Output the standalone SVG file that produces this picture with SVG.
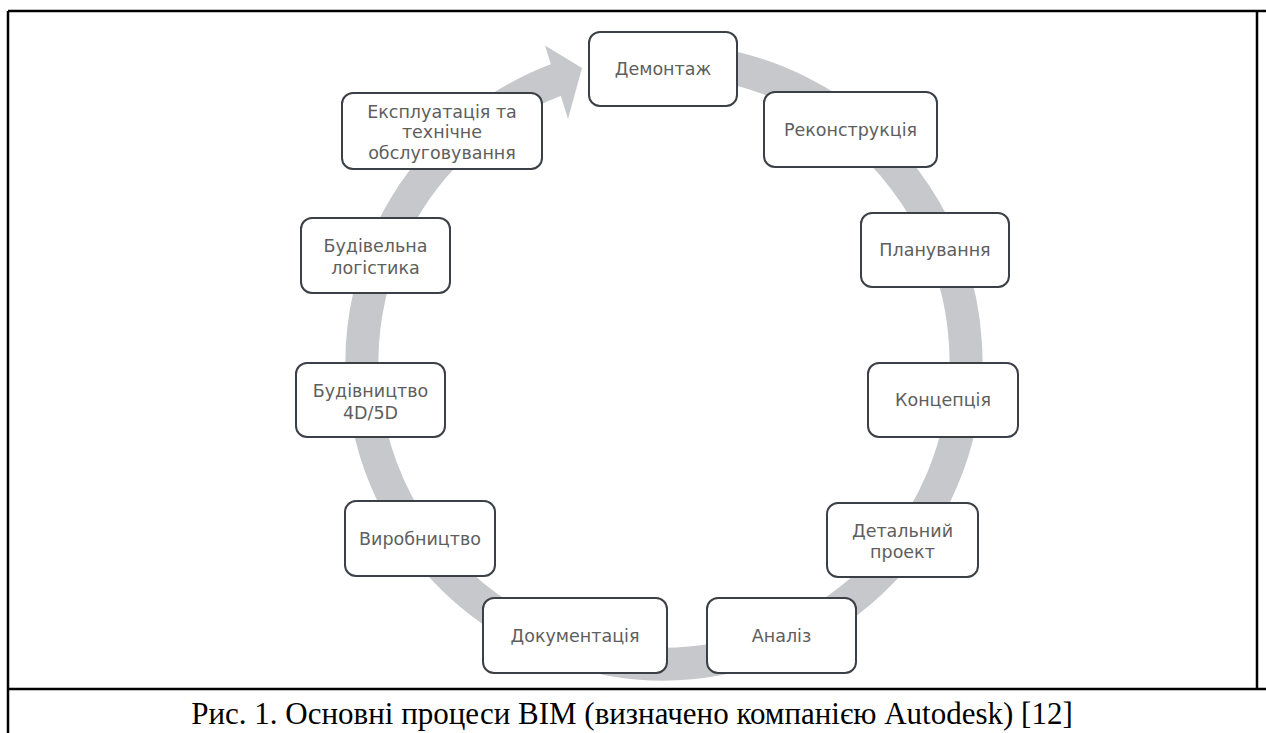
<svg xmlns="http://www.w3.org/2000/svg" width="1266" height="733" viewBox="0 0 1266 733">
<style>
.box{fill:#ffffff;stroke:#3b4046;stroke-width:2}
.lbl{font-family:"DejaVu Sans","Liberation Sans",sans-serif;font-size:17.5px;fill:#5e5e5e;text-anchor:middle}
.frame{stroke:#000;stroke-width:2.5;fill:none}
.cap{font-family:"Liberation Serif","Times New Roman",serif;font-size:31px;fill:#000;text-anchor:middle}
</style>
<rect width="1266" height="733" fill="#ffffff"/>
<g id="frame">
<line class="frame" x1="8" y1="11" x2="1266" y2="11"/>
<line class="frame" x1="8" y1="11" x2="8" y2="733"/>
<line class="frame" x1="1257" y1="11" x2="1257" y2="689"/>
<line class="frame" x1="8" y1="689" x2="1266" y2="689"/>
</g>
<g id="connectors">
<path d="M664 60 A302 302 0 1 1 557.8 79.3" fill="none" stroke="#c7c8cb" stroke-width="33"/>
<polygon points="545,45.6 582,68 568,119" fill="#c7c8cb"/>
</g>
<g id="n-demontazh"><rect class="box" x="589" y="32" width="148" height="74" rx="11"/><text class="lbl" x="663" y="75">Демонтаж</text></g>
<g id="n-rekonstruktsiia"><rect class="box" x="764" y="92" width="173" height="75" rx="11"/><text class="lbl" x="850.5" y="136">Реконструкція</text></g>
<g id="n-planuvannia"><rect class="box" x="861" y="213" width="148" height="74" rx="11"/><text class="lbl" x="935" y="256">Планування</text></g>
<g id="n-kontseptsiia"><rect class="box" x="868" y="363" width="150" height="74" rx="11"/><text class="lbl" x="943" y="406">Концепція</text></g>
<g id="n-detalnyi"><rect class="box" x="827" y="503" width="151" height="74" rx="11"/><text class="lbl" x="902.5" y="537">Детальний</text><text class="lbl" x="902.5" y="558">проект</text></g>
<g id="n-analiz"><rect class="box" x="707" y="598" width="149" height="75" rx="11"/><text class="lbl" x="781.5" y="642">Аналіз</text></g>
<g id="n-dokumentatsiia"><rect class="box" x="483" y="598" width="184" height="75" rx="11"/><text class="lbl" x="575" y="642">Документація</text></g>
<g id="n-vyrobnytstvo"><rect class="box" x="345" y="501" width="150" height="75" rx="11"/><text class="lbl" x="420" y="545">Виробництво</text></g>
<g id="n-budivnytstvo"><rect class="box" x="296" y="363" width="149" height="74" rx="11"/><text class="lbl" x="370.5" y="397">Будівництво</text><text class="lbl" x="370.5" y="419">4D/5D</text></g>
<g id="n-lohistyka"><rect class="box" x="301" y="218" width="149" height="75" rx="11"/><text class="lbl" x="375.5" y="252">Будівельна</text><text class="lbl" x="375.5" y="274">логістика</text></g>
<g id="n-ekspluatatsiia"><rect class="box" x="342" y="93" width="200" height="76" rx="11"/><text class="lbl" x="442" y="118">Експлуатація та</text><text class="lbl" x="442" y="138">технічне</text><text class="lbl" x="442" y="159">обслуговування</text></g>
<g id="caption"><text class="cap" x="632" y="724">Рис. 1. Основні процеси BIM (визначено компанією Autodesk) [12]</text></g>
</svg>
